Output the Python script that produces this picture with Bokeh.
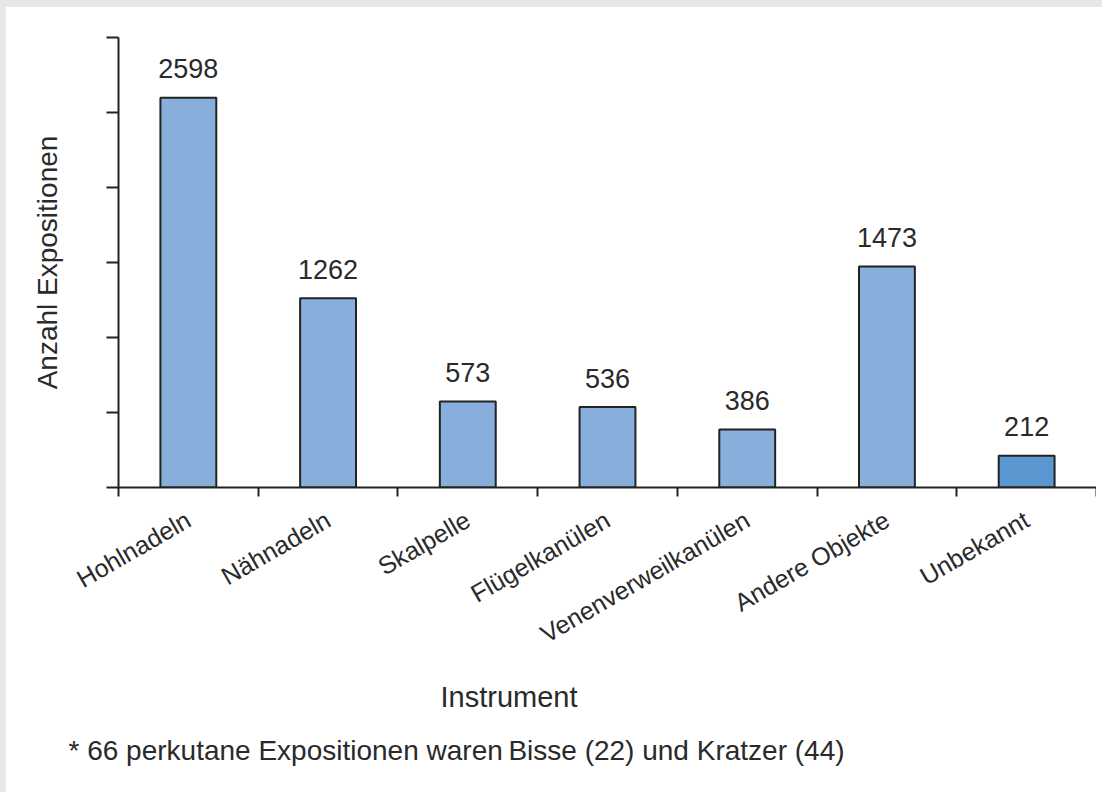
import math
from bokeh.plotting import figure
from bokeh.models import Range1d, FixedTicker, Title, ColumnDataSource, Spacer
from bokeh.layouts import column, row
from bokeh.core.properties import value
from bokeh.embed import file_html
from bokeh.resources import INLINE

categories = ["Hohlnadeln", "Nähnadeln", "Skalpelle", "Flügelkanülen",
              "Venenverweilkanülen", "Andere Objekte", "Unbekannt"]
counts = [2598, 1262, 573, 536, 386, 1473, 212]
bar_colors = ["#88afdc", "#88afdc", "#88afdc", "#88afdc", "#88afdc", "#88afdc", "#5a97d1"]
y_ticks = [0, 500, 1000, 1500, 2000, 2500, 3000]
x_title = "Instrument"
y_title = "Anzahl Expositionen"
footnote = "* 66 perkutane Expositionen waren\u2009Bisse (22) und Kratzer (44)"

FONT = "Liberation Sans"
TXT = "#2a2a2a"
GRAY = "#e6e7e9"

xs = [i + 0.5 for i in range(len(categories))]
src = ColumnDataSource(dict(x=xs, top=counts, color=bar_colors,
                            label=[str(c) for c in counts]))

p = figure(output_backend="svg", toolbar_location=None,
           frame_width=978, frame_height=450,
           min_border_left=112, min_border_top=30, min_border_right=0,
           min_border_bottom=20,
           x_range=Range1d(0, len(categories)), y_range=Range1d(0, 3000))
p.background_fill_color = "white"
p.border_fill_color = "white"
p.outline_line_color = None
p.grid.visible = False

p.vbar(x="x", top="top", bottom=0, width=0.4, fill_color="color",
       line_color="#222222", line_width=2, source=src)
p.text(x="x", y="top", text="label", source=src, y_offset=-29,
       text_align="center", text_baseline="alphabetic",
       text_font=value(FONT), text_font_size="27px", text_color=TXT)

# y axis
ya = p.yaxis[0]
ya.ticker = FixedTicker(ticks=y_ticks, minor_ticks=[])
ya.major_label_overrides = {t: "" for t in y_ticks}
ya.major_label_standoff = 0
ya.major_tick_in = 0
ya.major_tick_out = 12
ya.major_tick_line_width = 2
ya.major_tick_line_color = "#222222"
ya.minor_tick_line_color = None
ya.axis_line_width = 2
ya.axis_line_color = "#222222"
ya.axis_label = y_title
ya.axis_label_text_font = FONT
ya.axis_label_text_font_size = "28px"
ya.axis_label_text_font_style = "normal"
ya.axis_label_text_color = TXT
ya.axis_label_standoff = 44

# x axis
xa = p.xaxis[0]
xa.ticker = FixedTicker(ticks=xs, minor_ticks=list(range(len(categories) + 1)))
xa.major_label_overrides = {x: c for x, c in zip(xs, categories)}
xa.major_label_orientation = math.pi / 6
xa.major_label_text_font = FONT
xa.major_label_text_font_size = "25px"
xa.major_label_text_color = TXT
xa.major_label_standoff = 21
xa.major_tick_line_color = None
xa.minor_tick_in = 0
xa.minor_tick_out = 9
xa.minor_tick_line_width = 2
xa.minor_tick_line_color = "#222222"
xa.axis_line_width = 2
xa.axis_line_color = "#222222"

t1 = Title(text=x_title, align="left", offset=322, standoff=32,
           text_font=FONT, text_font_size="29px", text_font_style="normal",
           text_color=TXT)
p.add_layout(t1, "below")

t2 = Title(text=footnote, align="left", offset=-50, standoff=8,
           text_font=FONT, text_font_size="28px", text_font_style="normal",
           text_color=TXT)
p.add_layout(t2, "below")

top_band = Spacer(width=1102, height=7, background=GRAY)
left_band = Spacer(width=6, height=785, background=GRAY)
layout = column(top_band, row(left_band, p, spacing=0), spacing=0)

open("out.html", "w").write(file_html(layout, INLINE))
